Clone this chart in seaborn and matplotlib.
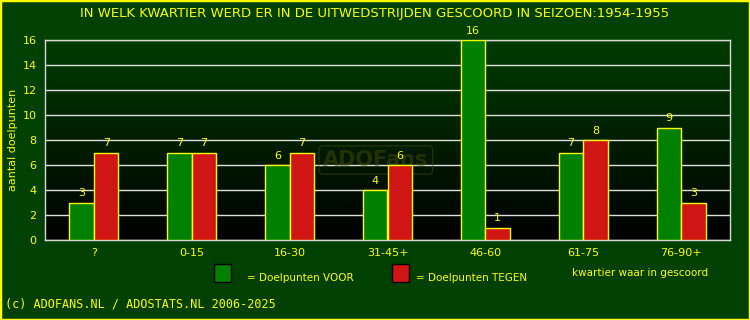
import seaborn as sns
import pandas as pd
import matplotlib.pyplot as plt
import numpy as np
from matplotlib.patches import Rectangle

# data
kwartieren = ['?', '0-15', '16-30', '31-45+', '46-60', '61-75', '76-90+']
voor = [3, 7, 6, 4, 16, 7, 9]
tegen = [7, 7, 7, 6, 1, 8, 3]

df = pd.DataFrame({
    'kwartier': kwartieren * 2,
    'doelpunten': voor + tegen,
    'soort': ['VOOR'] * len(voor) + ['TEGEN'] * len(tegen),
})

BG = '#004000'
YEL = '#ffff00'
GREEN = '#008000'
RED = '#d01515'

sns.set_style('dark')
plt.rcParams['font.family'] = ['DejaVu Sans']

fig = plt.figure(figsize=(7.5, 3.2), dpi=100, facecolor=BG)
ax = fig.add_axes([45 / 750, 80 / 320, 685 / 750, 200 / 320])

sns.barplot(data=df, x='kwartier', y='doelpunten', hue='soort',
            palette={'VOOR': GREEN, 'TEGEN': RED}, width=0.5,
            edgecolor=YEL, linewidth=1, saturation=1, legend=False, ax=ax, zorder=3)

ax.set_xlim(-0.5, 6.5)
ax.set_ylim(0, 16)

for cont in ax.containers:
    ax.bar_label(cont, color=YEL, fontsize=8, padding=3)

# gradient background, black at bottom to dark green at top
grad = np.linspace(0, 1, 256).reshape(-1, 1)
cmap = plt.matplotlib.colors.LinearSegmentedColormap.from_list('g', ['#000000', '#003c00'])
ax.imshow(grad, aspect='auto', cmap=cmap, origin='lower',
          extent=(-0.5, 6.5, 0, 16), zorder=0)
ax.set_xlim(-0.5, 6.5)
ax.set_ylim(0, 16)

ax.set_yticks(range(0, 17, 2))
ax.yaxis.grid(True, color='#e0e0e0', linewidth=1, zorder=1)
ax.xaxis.grid(False)
ax.set_axisbelow(True)
for s in ax.spines.values():
    s.set_visible(True)
    s.set_color('#d8d8d8')
    s.set_linewidth(1)
ax.tick_params(colors=YEL, labelsize=8, length=0, pad=6)
ax.set_xlabel('')
ax.set_ylabel('aantal doelpunten', color=YEL, fontsize=8, labelpad=3)

# watermark
ax.text(2.88, 6.4, 'ADOFans', color='#4a4a00', alpha=0.5, fontsize=15, fontweight='bold',
        ha='center', va='center', zorder=2,
        bbox=dict(boxstyle='round,pad=0.2', fc='none', ec='#4a4a00', alpha=0.5))

fig.text(0.5, 1 - 13 / 320, 'IN WELK KWARTIER WERD ER IN DE UITWEDSTRIJDEN GESCOORD IN SEIZOEN:1954-1955',
         color=YEL, fontsize=9.5, ha='center', va='center')

# legend
fig.patches.append(Rectangle((214 / 750, 1 - 282 / 320), 17 / 750, 18 / 320,
                             transform=fig.transFigure, fc=GREEN, ec='black', lw=1))
fig.text(247 / 750, 1 - 278 / 320, '= Doelpunten VOOR', color=YEL, fontsize=7.5, va='center')
fig.patches.append(Rectangle((392 / 750, 1 - 282 / 320), 17 / 750, 18 / 320,
                             transform=fig.transFigure, fc=RED, ec='black', lw=1))
fig.text(416 / 750, 1 - 278 / 320, '= Doelpunten TEGEN', color=YEL, fontsize=7.5, va='center')
fig.text(572 / 750, 1 - 273 / 320, 'kwartier waar in gescoord', color=YEL, fontsize=7.5, va='center')

fig.text(5 / 750, 1 - 304 / 320, '(c) ADOFANS.NL / ADOSTATS.NL 2006-2025', color=YEL,
         fontsize=8.5, family='DejaVu Sans Mono', va='center')

fig.patches.append(Rectangle((0, 0), 1, 1, transform=fig.transFigure, fc='none', ec=YEL, lw=2.5))

plt.savefig('out.png', dpi=100, facecolor=BG)
